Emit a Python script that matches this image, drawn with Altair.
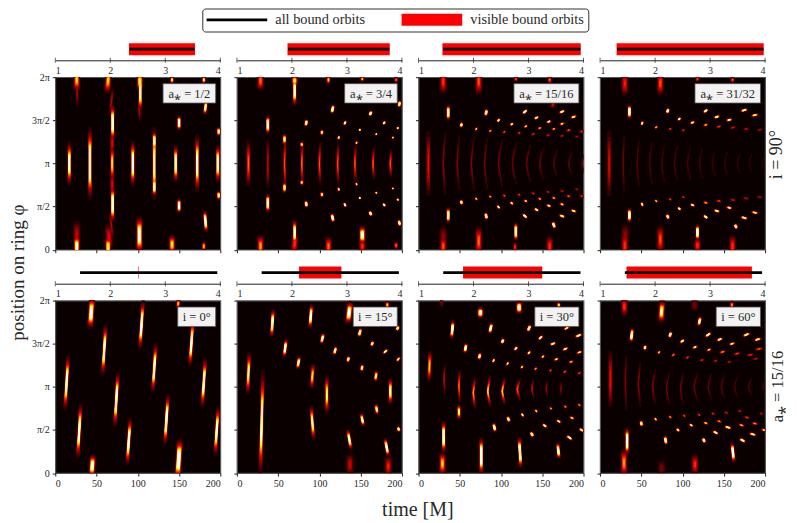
import math
import altair as alt
import pandas as pd

alt.data_transformers.disable_max_rows()

# every blob: (time, phi/pi, half length in phi/pi, tilt in time, peak, bend in time)
spin_half = [
    (26,.04,.12,0,.9),(26,.15,.15,0,.35),(26,1.97,.12,0,.7),(26.5,1.82,.12,0,.3),
    (17,1,.23,0,1),(42,1,.38,0,1.2),
    (64,.03,.12,0,.8),(65,.15,.12,-1,.4),(64,1.96,.13,1,.7),
    (69.5,1.47,.2,0,1.1),(69.5,.53,.2,0,1.1),(69,1,.19,0,.75),
    (68,1.72,.12,1.5,.3),(68,.28,.12,-1.5,.3),(69,1.24,.1,0,.4),(69,.76,.1,0,.4),
    (94,1,.24,0,1.1),(102,.17,.2,0,1),(103,1.82,.2,0,1),(102,1.62,.1,-.5,.3),(102.5,1.95,.1,0,.8),
    (120,1,.38,0,.9),(120,1.26,.1,0,1.1),(120,.73,.1,0,1.1),
    (141.5,.06,.1,0,.75),(141.5,1.97,.04,0,.8),(150,1.47,.08,0,1.2),(150,.51,.08,0,1.2),
    (146,1,.2,0,1.1),(172,1,.3,0,1),(182,.33,.12,-1,1.1),(182,1.65,.08,1,.95),
    (180,1.97,.04,0,.8),(180,.04,.05,0,.7),(197,1,.2,0,1.1),(198,1.37,.05,0,.9),(198,.63,.05,0,.9),
]
spin_three_quarter = [
    (28.6,.04,.12,0,.65),(28.6,1.96,.1,0,.6),(14,1,.23,0,.6),
    (37.5,1.45,.1,0,1.2),(37.5,.54,.1,0,1.2),(37.5,1,.23,0,.35),
    (57.7,1,.27,0,.55,1),(57.7,1.28,.06,0,.9),(57.7,.72,.06,0,.9),
    (70,.2,.14,0,1),(70,.07,.1,1,.5),(70,1.84,.16,0,1),(70,1.96,.06,0,.8),
    (78.6,1,.22,0,.6,1),(78.6,1.22,.03,0,.8),(78.6,.78,.03,0,.8),
    (84,1.47,.04,.6,1.2),(84,.53,.04,-.6,1.2),
    (100,1,.21,0,.55,1),(103,1.36,.03,.3,.9),(103,.64,.03,-.3,.9),
    (111,.04,.1,0,.6),(111,1.97,.05,0,.7),(116,1.63,.05,1.2,1.2),(116,.37,.05,-1.2,1.2),
    (122,1,.21,0,.55,1),(123.4,1.3,.025,.3,.9),(123.4,.7,.025,-.3,.9),
    (131,1.47,.025,1,1.2),(131,.52,.025,-1,1.2),
    (143,1,.19,0,.55,1),(145,1.24,.02,.3,.85),(145,.76,.02,-.3,.85),
    (149,1.39,.015,.4,1),(149,.6,.015,-.4,1),
    (152,.17,.1,0,1),(152,.04,.07,0,.5),(152,1.98,.03,0,.7),
    (162,1.58,.03,1.5,1.2),(162,.42,.03,-1.5,1.2),
    (165,1,.16,0,.55,1),(169,1.34,.015,.4,.85),(169,.66,.015,-.4,.85),
    (178.5,1.47,.02,1.2,1.1),(178.5,.52,.02,-1.2,1.1),
    (186,1,.14,0,.55,1),(189,1.3,.015,.4,.8),(189,.71,.015,-.4,.8),
    (195,1.41,.012,1,.9),(195,.58,.012,-1,.9),(197,1.69,.04,1,1),(197,.31,.04,-1,1),
    (193,1.97,.03,0,.6),(193,.05,.04,0,.6),
]
spin_fifteen = [
    (30,.04,.1,0,.55),(30,1.95,.12,0,.5),(30,.14,.1,0,.25),(12,1,.31,0,.42),(30,1,.27,0,.32,2),
    (36,1.59,.085,0,1.2),(36,.40,.085,0,1.2),(47,1,.25,0,.28,2),(52,1.447,.03,.8,1),(52,.55,.03,-.8,1),
    (64,1,.25,0,.28,3),(70,1.40,.02,.8,.75),(70,.59,.02,-.8,.75),(73,.1,.15,0,.6),(73,1.95,.13,0,.55),
    (80,1,.24,0,.26,3),(82,1.59,.04,1,1.2),(82,.39,.04,-1,1.2),(87,1.377,.015,1,.7),(87,.615,.015,-1,.7),
    (97,1,.22,0,.26,4),(97,1.5,.02,1.2,1),(97,.495,.02,-1.2,1),(104,1.365,.012,1.2,.6),(104,.627,.012,-1.2,.6),
    (113,1.455,.015,1.5,.9),(113,.54,.015,-1.5,.9),(114,1,.2,0,.24,4),
    (118,.21,.1,0,1.2),(117,.03,.05,0,.5),(118,1.98,.03,0,.55),(122,1.354,.01,1.2,.55),(122,.638,.01,-1.2,.55),
    (129,1.6,.025,2,1.2),(129,.39,.025,-2,1.2),(130,1.43,.012,1.5,.8),(130,.565,.012,-1.5,.8),(131,1,.18,0,.24,4),
    (139,1.34,.01,1.4,.5),(139,.654,.01,-1.4,.5),(143,1.53,.015,2,1),(143,.464,.015,-2,1),
    (147,1,.16,0,.22,4),(147,1.41,.01,1.5,.7),(147,.59,.01,-1.5,.7),
    (157,1.327,.008,1.4,.45),(157,.67,.008,-1.4,.45),(158,1.485,.012,2,.9),(158,.51,.012,-2,.9),
    (159,.04,.1,0,.5),(159,1.97,.04,0,.6),(164,1,.14,0,.2,4),(164,.286,.04,-1.5,1.2),(163,1.68,.03,1.5,.4),
    (164,1.40,.008,1.6,.7),(164,.60,.008,-1.6,.7),(174,1.32,.007,1.5,.4),(174,.68,.007,-1.5,.4),
    (174,1.6,.015,2.5,1),(174,.39,.015,-2.5,1),(174,1.46,.01,2,.8),(174,.526,.01,-2,.8),(182,1,.12,0,.2,4),
    (188,1.54,.012,2.5,.9),(188,.45,.012,-2.5,.9),(182,1.385,.008,1.8,.6),(182,.62,.008,-1.8,.6),
    (192,1.31,.006,1.6,.35),(192,.70,.006,-1.6,.35),(198,1.37,.007,2,.5),(198,.62,.007,-2,.5),(198,1,.1,0,.2,3),
]
spin_thirtyone = [
    (11,1,.31,0,.4),(30,.05,.12,0,.5),(30.5,.16,.1,0,.25),(30,1.93,.12,0,.45),
    (28,1,.27,0,.25,1),(35.5,1.6,.08,0,1.2),(35.5,.4,.08,0,1.2),
    (45,1,.23,0,.2,2),(51,1.466,.025,.8,1),(51,.526,.025,-.8,1),
    (60,1,.23,0,.18,3),(68,1.42,.015,1,.75),(68,.565,.015,-1,.75),(73,.12,.14,0,.55),(73,1.93,.12,0,.55),
    (75,1,.21,0,.17,3),(82,1.61,.03,1.3,1.15),(82,.383,.03,-1.3,1.15),(85,1.4,.01,1,.6),(85,.584,.01,-1,.6),
    (90,1,.2,0,.17,4),(96,1.516,.015,1.5,1),(96,.476,.015,-1.5,1),(101,1.385,.008,1.3,.5),(101,.61,.008,-1.3,.5),
    (106,1,.19,0,.16,4),(112,1.474,.012,2,.9),(112,.518,.012,-2,.9),(118,.2,.09,0,1.2),(118,.05,.08,0,.5),(118,1.98,.03,0,.55),
    (120.5,1,.18,0,.15,4),(128,1.61,.02,2,1.2),(128,.38,.02,-2,1.2),(128,1.447,.009,2,.7),(128,.545,.009,-2,.7),
    (136,1,.16,0,.14,4),(141.5,1.54,.012,2.5,1),(141.5,.45,.012,-2.5,1),(144,1.427,.008,2,.55),(144,.565,.008,-2,.55),
    (151,1,.15,0,.13,4),(156.5,1.505,.01,2.5,.9),(156.5,.487,.01,-2.5,.9),
    (160.5,.04,.11,0,.5),(160.5,1.97,.03,0,.6),(164.5,.27,.03,-1.5,1.2),(161,1.416,.007,2,.45),(161,.576,.007,-2,.45),
    (166.5,1,.14,0,.12,4),(174.6,1.617,.013,3,1),(174.6,.37,.013,-3,1),(177,1.4,.007,2,.4),(177,.596,.007,-2,.4),
    (181,1,.13,0,.12,4),(187.5,1.56,.01,3,.85),(187.5,.43,.01,-3,.85),(193.5,1.39,.006,2,.35),(193.5,.61,.006,-2,.35),(197,1,.11,0,.12,3),
]
incl_0 = [
    (13.7,1.05,.29,1.8,1.05),(29,.49,.29,1.8,1.05),(43.5,1.86,.17,1.2,1),(44.8,.085,.12,.8,1),
    (59.3,1.43,.27,1.8,1.05),(74,.855,.29,1.8,1.1),(89,.37,.25,1.8,1.1),(104.5,1.72,.26,1.8,1.1),
    (120,1.22,.26,1.8,1.05),(134.7,.62,.27,1.8,1.15),(149.6,.16,.22,1.5,1.15),(149,1.965,.05,.5,.7),
    (165,1.51,.25,1.8,1.05),(180,1.05,.26,1.8,1.05),(195.6,.49,.26,1.8,1.05),
]
incl_15 = [
    (14,1.16,.22,1,.85),(30,.58,.55,1.5,1),(43,1.74,.15,1,1.1),(58.5,1.45,.1,1.3,1.05),(74.6,1.28,.07,1.3,1),
    (89.5,1.82,.13,1,1.1),(91.5,1.125,.13,1,.75),(91.5,.585,.18,-1.5,.9),(109,.91,.2,0,.8),(103.6,1.56,.06,1.5,1.05),
    (119,1.42,.05,1.5,1),(135,1.32,.035,1,1),(136,1.86,.12,1.5,1),(136.3,.39,.11,-2,1),(137,.1,.1,0,.35),
    (149,1.63,.05,1.5,1.1),(152,.62,.07,-1.5,1),(151.6,1.22,.04,.8,.95),(164,1.5,.03,1.5,1),(168.5,1.125,.06,1,.9),
    (169.4,.74,.06,-1,.9),(182.3,1.95,.04,0,.7),(181.5,.3,.1,-2,1.1),(183.5,.08,.1,0,.45),(180,1.41,.025,2,1),
    (186,.95,.14,0,.9),(194.8,1.68,.03,1.5,1),(195.6,1.32,.025,1.5,.9),(196,.51,.03,-1,1),
]
incl_30 = [
    (13.3,1.24,.16,.5,.7),(28,1.98,.04,0,.25),(30.5,.42,.17,0,1.2),(29,.11,.12,0,.7),(31,1.09,.14,0,.45,1),
    (41,1.665,.1,1,1.2),(49,1.01,.16,0,.6,1),(49,.71,.08,0,.85),(57,1.45,.055,1,1.1),(66.5,.93,.16,0,.65,2),
    (74,1.355,.04,1,1),(75,1.86,.06,0,1),(76,.2,.2,0,1.3),(84,.95,.16,0,.7,3),(87.5,1.68,.06,1.5,1.2),
    (91,1.305,.025,.8,.9),(92,.53,.05,-1.3,1.2),(102,1.53,.03,1.5,1.1),(101.6,.95,.14,0,.7,3),(108,1.27,.022,1,.85),
    (109,.625,.035,-1.2,1),(119.8,.97,.11,0,.55,3),(118,1.445,.022,1.5,1),(122,1.92,.07,0,1),(123,.24,.17,-1,1.2),
    (125.4,1.23,.02,1,.8),(126,.675,.025,-1,.9),(134,1.68,.04,2,1.1),(134,1.395,.02,1.5,.9),(137.5,.98,.09,0,.45,2),
    (137.5,.45,.03,-2,1.1),(142,1.21,.018,1,.7),(142.7,.72,.018,-1,.8),(148,1.57,.025,2,1),(150.8,1.35,.015,1.5,.8),
    (153,.55,.02,-2,1),(155,.98,.07,0,.35,1),(160,1.19,.015,1,.6),(160.5,.75,.015,-1,.7),(163,1.5,.015,2.5,1),
    (167,1.32,.012,2,.8),(170,1.95,.03,0,.8),(169.5,.26,.09,-1,1.1),(170,.6,.015,-2,.9),(172.6,.98,.06,0,.22),
    (177.4,1.175,.012,1.5,.6),(178,.77,.012,-1.5,.65),(178,1.44,.015,2.5,.9),(179.5,1.68,.02,2.5,.85),(183,.41,.025,-2.5,1.1),
    (185,1.29,.01,2,.7),(186,.64,.015,-2,.8),(195,1.40,.012,2.5,.8),(194,1.595,.018,3,1),(195,1.16,.012,1.5,.55),
    (195,.79,.012,-1.5,.65),(197.6,.5,.02,-2,1),
]
incl_60 = [
    (12.5,1.09,.27,0,.42),(29.4,1.93,.09,0,.5),(30.6,1.05,.25,0,.28,1),(32.7,.37,.15,0,1.2),(29,.12,.14,0,.65),
    (38.3,1.6,.08,1,1.2),(46.4,1.03,.2,0,.3,2),(50,.575,.035,-.7,1),(54.4,1.455,.03,1,1),(63.7,1,.16,0,.28,3),
    (67.3,.625,.02,-1,.8),(71.4,1.40,.02,1,.75),(74.6,1.875,.12,.8,.85),(74.6,.06,.07,0,.2),(79.4,.38,.05,-1,1.15),
    (80.6,.98,.16,0,.25,3),(85,1.605,.035,1.5,1.15),(85,.65,.015,-1,.7),(88.7,1.37,.015,1.5,.65),(94.4,.5,.018,-1.5,1),
    (97.6,.98,.15,0,.24,3),(99.6,1.53,.02,2,1),(102,.665,.012,-1.2,.6),(106,1.34,.012,1.5,.55),(110.5,.555,.015,-1.8,.85),
    (115,1.46,.015,2,.9),(115,.1,.1,0,.5),(114,1,.14,0,.24,4),(120.5,1.76,.055,1.2,1.05),(114.7,1.95,.06,0,.2),
    (125.8,.38,.03,-1.5,1.2),(120,.675,.012,-1.2,.55),(123.4,1.31,.01,1.5,.5),(131,1.605,.025,2.5,1.1),(128,.58,.012,-2,.75),
    (131,1,.13,0,.22,4),(132,1.43,.012,2,.75),(137,.69,.01,-1.5,.5),(140,.47,.018,-2.5,1.05),(140,1.3,.01,1.5,.45),
    (145,1.55,.015,2.5,1),(144.4,.6,.012,-2,.65),(148.4,1.405,.012,2.5,.65),(147,1,.125,0,.2,4),(153,.7,.008,-1.5,.45),
    (155,.53,.012,-3,1),(160,1.5,.012,2.5,.85),(156.5,1.29,.008,1.5,.4),(161,.24,.11,-1,1.2),(159.7,1.95,.04,0,.65),
    (166,1.385,.01,2.5,.55),(163,1,.115,0,.18,4),(172.6,.38,.02,-2.5,1.2),(171.4,.555,.01,-2.5,.7),(169.4,.72,.008,-1.5,.4),
    (177.4,1.605,.018,3,1),(180,1,.1,0,.18,4),(182,1.37,.008,2.5,.5),(178,.645,.008,-2,.55),(185,.45,.012,-3,.95),
    (191,1.55,.012,3,.95),(188.7,1.325,.008,2,.4),(187.5,.575,.008,-2.5,.65),(197,1,.08,0,.16,3),(192.7,1.44,.01,3,.6),
    (198.4,.5,.01,-2,.75),(195.5,.69,.008,-1.5,.4),
]

top_blobs = [spin_half, spin_three_quarter, spin_fifteen, spin_thirtyone]
bottom_blobs = [incl_0, incl_15, incl_30, incl_60]
top_labels = ["a⁎ = 1/2", "a⁎ = 3/4", "a⁎ = 15/16", "a⁎ = 31/32"]
bottom_labels = ["i = 0°", "i = 15°", "i = 30°", "i = 60°"]
top_box_left = [130.6, 130.6, 115.7, 115]
bottom_box_left = [148.4, 141, 141, 140.7]

all_bound_top = [(2.35, 3.53), (1.93, 3.77), (1.45, 3.94), (1.31, 3.97)]
visible_top = [(2.34, 3.54), (1.92, 3.78), (1.435, 3.95), (1.30, 3.975)]
all_bound_bottom = [(1.45, 3.945)] * 4
visible_bottom = [(2.505, 2.515), (2.13, 2.90), (1.81, 3.25), (1.48, 3.76)]

# hot colormap steps
levels = [.05, .1, .15, .2, .27, .35, .42, .5, .58, .66, .74, .82, .92, 1.0]
level_colors = ["#2c0000", "#4d0000", "#6f0000", "#900000", "#bf0000", "#f40000", "#ff2500",
                "#ff5a00", "#ff9000", "#ffc500", "#fffb00", "#ffff4a", "#ffffaf", "#ffffff"]

time_ticks = [0, 50, 100, 150, 200]
phi_ticks = [0, .5, 1, 1.5, 2]
phi_tick_labels = ["0", "π/2", "π", "3π/2", "2π"]
radius_ticks = [1, 2, 3, 4]
kinds = ["all bound orbits", "visible bound orbits"]

W, H, STRIP_H = 165, 172.5, 17.3
FONT = "Liberation Serif"
TEXT = "#2a2a2a"
FRAME = "#555555"
PX_T, PX_P = W / 200, H / 2

phi_expr = " : ".join(
    f"datum.value == {v} ? '{s}'" for v, s in zip(phi_ticks[:-1], phi_tick_labels[:-1])
) + f" : '{phi_tick_labels[-1]}'"


def blob_rules(blobs):
    rows = []
    for blob in blobs:
        t, phi, half, tilt, peak = blob[:5]
        bend = blob[5] if len(blob) > 5 else 0
        edge = phi < .2 or phi > 1.85
        if bend:
            wide = 1.2 if peak >= .5 else .85
            if peak < .5:
                peak = peak * .8
        elif edge and half > .05:
            wide = 3.0
        elif half < .03:
            wide = .75 + .6 * min(peak, 1)
            tilt = tilt * 1.5
        else:
            wide = 1.2 if peak < .4 else 1.8
        # bright blobs saturate the colormap, so their core is wide
        if peak > .6:
            peak = peak + (peak - .6)
        r0 = math.sqrt(2 * math.log(peak / min(.1, peak / 2.5)))
        for lev, col in zip(levels, level_colors):
            if lev >= peak:
                continue
            scale = math.sqrt(2 * math.log(peak / lev)) / r0
            a = wide * scale
            b = math.hypot(half * scale * PX_P, tilt * scale * PX_T)
            f = max(0, b - a) / b if b > 0 else 0
            marks = [-1, -.5, 0, .5, 1] if bend else [-1, 1]
            for s0, s1 in zip(marks[:-1], marks[1:]):
                s0, s1 = s0 * f, s1 * f
                rows.append({
                    "t0": t + tilt * scale * s0 + bend * scale * s0 ** 2,
                    "t1": t + tilt * scale * s1 + bend * scale * s1 ** 2,
                    "p0": phi + half * scale * s0,
                    "p1": phi + half * scale * s1,
                    "lev": lev, "col": col, "w": 2 * a,
                })
    return pd.DataFrame(rows).sort_values("lev", kind="stable")


def heat_panel(blobs, label, box_left, show_x, show_y, extras=()):
    x = alt.X("t0:Q", scale=alt.Scale(domain=[0, 200], nice=False),
              axis=alt.Axis(values=time_ticks, labels=show_x, title=None, grid=False, domain=False,
                            tickSize=3, tickColor="#222", labelFontSize=10, labelFont=FONT,
                            labelColor=TEXT, labelPadding=2, format="d"))
    y = alt.Y("p0:Q", scale=alt.Scale(domain=[0, 2], nice=False),
              axis=alt.Axis(values=phi_ticks, labels=show_y, title=None, grid=False, domain=False,
                            tickSize=3, tickColor="#222", labelFontSize=10, labelFont=FONT,
                            labelColor=TEXT, labelPadding=3, labelExpr=phi_expr))
    rules = alt.Chart(blob_rules(blobs)).mark_rule(clip=True, strokeCap="round").encode(
        x=x, x2="t1:Q", y=y, y2="p1:Q",
        color=alt.Color("col:N", scale=None),
        strokeWidth=alt.StrokeWidth("w:Q", scale=None),
    )
    box_df = pd.DataFrame({"t0": [box_left], "t1": [194.4], "p0": [1.70], "p1": [1.925],
                           "mid": [(box_left + 194.4) / 2], "py": [1.81], "label": [label]})
    box = alt.Chart(box_df).mark_rect(fill="#f2f2f2", stroke=FRAME, strokeWidth=.8).encode(
        x="t0:Q", x2="t1:Q", y="p0:Q", y2="p1:Q")
    text = alt.Chart(box_df).mark_text(font=FONT, fontSize=12.5, color=TEXT).encode(
        x="mid:Q", y="py:Q", text="label:N")
    layers = [rules, box, text]
    for words, px, py, angle, size in extras:
        layers.append(alt.Chart(pd.DataFrame({"s": [words]})).mark_text(
            font=FONT, fontSize=size, color=TEXT, angle=angle, baseline="middle", align="center"
        ).encode(x=alt.value(px), y=alt.value(py), text="s:N"))
    return alt.layer(*layers).properties(
        width=W, height=H, view=alt.ViewBackground(fill="#0a0000", stroke=FRAME, strokeWidth=1.2))


def strip_panel(bound, visible, with_legend=False):
    df = pd.DataFrame({"r0": [visible[0], bound[0]], "r1": [visible[1], bound[1]],
                       "kind": [kinds[1], kinds[0]]})
    legend = None
    if with_legend:
        legend = alt.Legend(orient="none", legendX=147, legendY=-34.5, direction="horizontal", columns=2,
                            title=None, symbolType="stroke", symbolSize=3700, clipHeight=14, symbolOffset=-6,
                            labelFont=FONT, labelFontSize=14.3, labelColor=TEXT, fillColor="white",
                            strokeColor="#333333", cornerRadius=3, padding=4, columnPadding=36, labelOffset=2)
    x = alt.X("r0:Q", scale=alt.Scale(domain=[1, 4], nice=False),
              axis=alt.Axis(values=radius_ticks, title=None, grid=False, domainColor="#222", ticks=False,
                            labelFontSize=10, labelFont=FONT, labelColor=TEXT, labelPadding=5, format="d"))
    bars = alt.Chart(df).mark_rule().encode(
        x=x, x2="r1:Q", y=alt.value(6.2),
        color=alt.Color("kind:N", scale=alt.Scale(domain=kinds, range=["black", "red"]), legend=legend),
        strokeWidth=alt.StrokeWidth("kind:N", scale=alt.Scale(domain=kinds, range=[2.7, 12]), legend=legend),
    )
    ticks = alt.Chart(pd.DataFrame({"r0": radius_ticks})).mark_tick(size=5, thickness=1, color="#222").encode(
        x="r0:Q", y=alt.value(STRIP_H))
    return alt.layer(bars, ticks).properties(width=W, height=STRIP_H, view=alt.ViewBackground(stroke="transparent"))


strips_top = [strip_panel(all_bound_top[i], visible_top[i], i == 0) for i in range(4)]
strips_bottom = [strip_panel(all_bound_bottom[i], visible_bottom[i]) for i in range(4)]
heats_top, heats_bottom = [], []
for i in range(4):
    extras_top = [("i = 90°", 177, 77.5, 270, 18)] if i == 3 else []
    extras_bot = []
    if i == 0:
        extras_bot.append(("position on ring φ", -37, -28, 270, 19))
    if i == 1:
        extras_bot.append(("time [M]", 181, 209, 0, 20))
    if i == 3:
        extras_bot.append(("a⁎ = 15/16", 178, 86, 270, 16.5))
    heats_top.append(heat_panel(top_blobs[i], top_labels[i], top_box_left[i], False, i == 0, extras_top))
    heats_bottom.append(heat_panel(bottom_blobs[i], bottom_labels[i], bottom_box_left[i], True, i == 0, extras_bot))

chart = alt.concat(
    *strips_top, *heats_top, *strips_bottom, *heats_bottom,
    columns=4, spacing={"row": 16.2, "column": 16.6}, bounds="flush",
).properties(
    autosize=alt.AutoSizeParams(type="none"),
    padding={"left": 47.3, "top": 35, "right": 733.7, "bottom": 477},
).configure(background="white")
chart.save("out.html", embed_options={"renderer": "svg", "actions": False})
